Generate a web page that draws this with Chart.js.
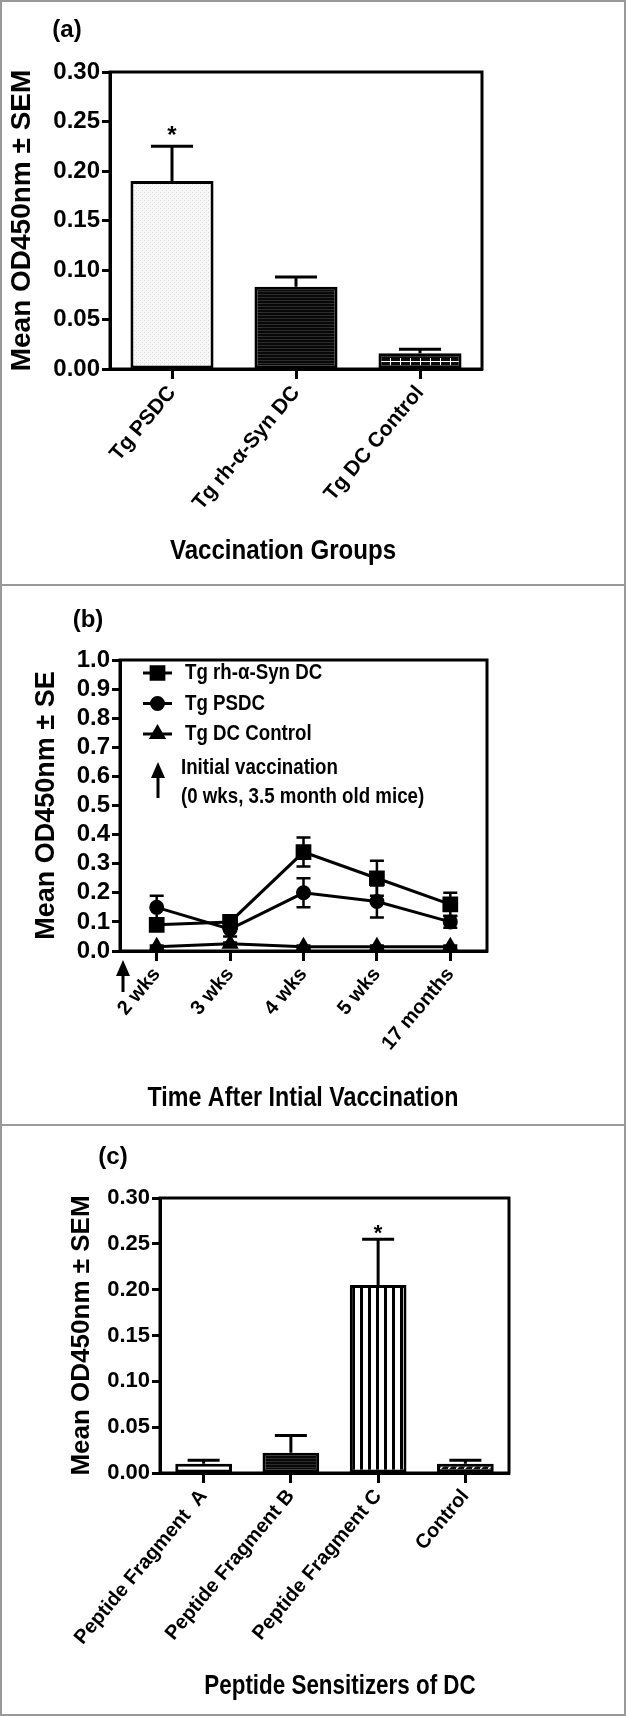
<!DOCTYPE html>
<html lang="en">
<head>
<meta charset="UTF-8">
<title>Antibody response to DC vaccination</title>
<script src="https://cdn.jsdelivr.net/npm/chart.js@4.4.1/dist/chart.umd.min.js"></script>
<style>
    body { margin: 0; background: #fff; }
    .figure { position: relative; width: 626px; height: 1716px; }
    .panel { position: absolute; left: 0; width: 626px; }
    .divider { position: absolute; left: 0; width: 626px; height: 2px; background: #9a9a9a; }
    .frame { position: absolute; left: 0; top: 0; width: 626px; height: 1716px; box-sizing: border-box; border: 2px solid #9a9a9a; pointer-events: none; }
</style>
</head>
<body>
<div class="figure">
    <div class="panel" style="top:0;height:585px"><canvas id="chartA"></canvas></div>
    <div class="panel" style="top:585px;height:540px"><canvas id="chartB"></canvas></div>
    <div class="panel" style="top:1125px;height:591px"><canvas id="chartC"></canvas></div>
    <div class="divider" style="top:584px"></div>
    <div class="divider" style="top:1124px"></div>
    <div class="frame"></div>
</div>

<script>
// (a) antibody levels by vaccination group
const groupsA = ['Tg PSDC', 'Tg rh-α-Syn DC', 'Tg DC Control'];
const meanA = [0.190, 0.083, 0.016];
const semA = [0.035, 0.010, 0.004];
const starA = [true, false, false];

// (b) time course
const timepoints = ['2 wks', '3 wks', '4 wks', '5 wks', '17 months'];
const seriesB = ['Tg rh-α-Syn DC', 'Tg PSDC', 'Tg DC Control'];
const synB = [0.09, 0.10, 0.34, 0.25, 0.16];
const synErrB = [0.02, 0.01, 0.05, 0.06, 0.04];
const psdcB = [0.15, 0.075, 0.20, 0.17, 0.10];
const psdcErrB = [0.04, 0.025, 0.05, 0.055, 0.02];
const ctrlB = [0.015, 0.025, 0.015, 0.015, 0.015];
const ctrlErrB = [0.004, 0.004, 0.004, 0.004, 0.004];
const vaccNote = ['Initial vaccination', '(0 wks, 3.5 month old mice)'];

// (c) peptide sensitizers
const peptidesC = ['Peptide Fragment  A', 'Peptide Fragment B', 'Peptide Fragment C', 'Control'];
const meanC = [0.010, 0.022, 0.205, 0.010];
const semC = [0.004, 0.019, 0.050, 0.004];
const starC = [false, false, true, false];

const SANS = "'Liberation Sans', Arial, sans-serif";

// fill patterns for the bars
function makePattern(w, h, draw) {
    const c = document.createElement('canvas');
    c.width = w; c.height = h;
    const g = c.getContext('2d');
    draw(g, w, h);
    return g.createPattern(c, 'repeat');
}
const dotted = makePattern(4, 4, (g) => {
    g.fillStyle = '#f7f7f7'; g.fillRect(0, 0, 4, 4);
    g.fillStyle = '#dcdcdc'; g.fillRect(0, 0, 1, 1); g.fillRect(2, 2, 1, 1);
});
const hLines = makePattern(4, 3, (g) => {
    g.fillStyle = '#080808'; g.fillRect(0, 0, 4, 3);
    g.fillStyle = '#2c2c2c'; g.fillRect(0, 0, 4, 1);
});
const bricks = makePattern(10, 12, (g) => {
    g.fillStyle = '#0a0a0a'; g.fillRect(0, 0, 10, 12);
    g.fillStyle = '#ffffff'; g.fillRect(0, 1, 10, 1);
    g.fillRect(0, 10, 1, 2); g.fillRect(0, 0, 1, 5);
});
const vStripes = makePattern(8, 4, (g) => {
    g.fillStyle = '#ffffff'; g.fillRect(0, 0, 8, 4);
    g.fillStyle = '#000000'; g.fillRect(0, 0, 3, 4);
});
const hatch = makePattern(8, 8, (g) => {
    g.fillStyle = '#111111'; g.fillRect(0, 0, 8, 8);
    g.strokeStyle = '#ffffff'; g.lineWidth = 1.5;
    g.beginPath(); g.moveTo(0, 8); g.lineTo(4, 4); g.stroke();
});

// condensed-looking text: squeeze horizontally
function squeezeText(ctx, text, x, y, sx, align) {
    ctx.save();
    ctx.translate(x, y);
    ctx.scale(sx, 1);
    ctx.textAlign = align;
    ctx.fillText(text, 0, 0);
    ctx.restore();
}

// error bars (up only for bars, both ways for lines)
const errorBars = {
    id: 'errorBars',
    beforeDatasetsDraw(chart, args, opts) {
        const ctx = chart.ctx, y = chart.scales.y;
        chart.data.datasets.forEach((ds, i) => {
            if (!ds.errors) return;
            chart.getDatasetMeta(i).data.forEach((el, j) => {
                const v = ds.data[j], e = ds.errors[j];
                const yTop = y.getPixelForValue(v + e);
                const yBot = opts.both ? y.getPixelForValue(v - e) : el.y;
                ctx.save();
                ctx.strokeStyle = '#000';
                ctx.lineWidth = opts.lineWidth;
                ctx.beginPath();
                ctx.moveTo(el.x, yBot); ctx.lineTo(el.x, yTop);
                ctx.moveTo(el.x - opts.cap / 2, yTop); ctx.lineTo(el.x + opts.cap / 2, yTop);
                if (opts.both) { ctx.moveTo(el.x - opts.cap / 2, yBot); ctx.lineTo(el.x + opts.cap / 2, yBot); }
                ctx.stroke();
                if (ds.stars && ds.stars[j]) {
                    ctx.fillStyle = '#000';
                    ctx.font = 'bold ' + opts.starSize + 'px ' + SANS;
                    ctx.textAlign = 'center';
                    ctx.textBaseline = 'alphabetic';
                    ctx.fillText('*', el.x, yTop + opts.starOffset);
                }
                ctx.restore();
            });
        });
    }
};

// closed plot box and free text (panel letter, x title)
const panelDecor = {
    id: 'panelDecor',
    afterDraw(chart, args, opts) {
        const ctx = chart.ctx, a = chart.chartArea;
        ctx.save();
        ctx.strokeStyle = '#000';
        ctx.lineWidth = 3;
        ctx.strokeRect(a.left, a.top, a.right - a.left, a.bottom - a.top);
        ctx.fillStyle = '#000';
        ctx.textBaseline = 'middle';
        (opts.texts || []).forEach(t => {
            ctx.font = t.font;
            squeezeText(ctx, t.text, t.x, t.y, t.sx || 1, 'center');
        });
        ctx.restore();
    }
};

function arrowUp(ctx, x, tip, bottom) {
    ctx.save();
    ctx.fillStyle = '#000'; ctx.strokeStyle = '#000'; ctx.lineWidth = 3;
    ctx.beginPath(); ctx.moveTo(x, tip + 12); ctx.lineTo(x, bottom); ctx.stroke();
    ctx.beginPath(); ctx.moveTo(x, tip); ctx.lineTo(x - 7, tip + 16); ctx.lineTo(x + 7, tip + 16); ctx.closePath(); ctx.fill();
    ctx.restore();
}

// legend of panel (b), with the vaccination arrow note
const lineLegend = {
    id: 'lineLegend',
    afterDraw(chart, args, opts) {
        const ctx = chart.ctx;
        ctx.save();
        chart.data.datasets.forEach((ds, i) => {
            const y = opts.top + i * opts.gap;
            ctx.strokeStyle = '#000'; ctx.fillStyle = '#000'; ctx.lineWidth = 3;
            ctx.beginPath(); ctx.moveTo(opts.x0, y); ctx.lineTo(opts.x1, y); ctx.stroke();
            Chart.helpers.drawPoint(ctx, { pointStyle: ds.pointStyle, radius: ds.pointRadius, borderWidth: 1, rotation: 0 }, (opts.x0 + opts.x1) / 2, y);
            ctx.font = opts.font; ctx.textBaseline = 'middle';
            squeezeText(ctx, ds.label, opts.textX, y, opts.sx, 'left');
        });
        arrowUp(ctx, 158, 177, 213);
        ctx.font = opts.font; ctx.textBaseline = 'middle';
        squeezeText(ctx, vaccNote[0], 181, 183, opts.sx, 'left');
        squeezeText(ctx, vaccNote[1], 181, 212, opts.sx, 'left');
        arrowUp(ctx, 123, 375, 407);
        ctx.restore();
    }
};

function scaleOptions(p) {
    const grid = { display: true, drawOnChartArea: false, drawTicks: true, tickWidth: 3, tickColor: '#000', offset: false };
    return {
        x: {
            offset: true,
            grid: Object.assign({}, grid, { tickLength: p.xTick }),
            border: { color: '#000', width: 3 },
            ticks: { color: '#000', font: { family: SANS, weight: 'bold', size: p.xFont }, minRotation: 50, maxRotation: 50, autoSkip: false, padding: 2 },
            afterFit: (s) => { s.height = p.height - p.bottom; }
        },
        y: {
            min: 0, max: p.max,
            grid: Object.assign({}, grid, { tickLength: 8 }),
            border: { color: '#000', width: 3 },
            ticks: { color: '#000', stepSize: p.step, padding: 2, autoSkip: false, font: { family: SANS, weight: 'bold', size: p.yFont },
                callback: (v) => v.toFixed(p.dec) },
            title: { display: true, text: p.yTitle, color: '#000', font: { family: SANS, weight: 'bold', size: p.titleSize },
                padding: { top: p.titleX - p.titleSize * 0.6, bottom: 0 } },
            afterFit: (s) => { s.width = p.left; }
        }
    };
}

function baseOptions(p) {
    return {
        responsive: true,
        maintainAspectRatio: false,
        animation: false,
        layout: { padding: { left: 0, top: p.top, right: 626 - p.right, bottom: 0 } },
        plugins: { legend: { display: false }, tooltip: { enabled: false } },
        scales: scaleOptions(p)
    };
}

// panel (a)
const optA = baseOptions({ height: 585, left: 110, right: 482, top: 72, bottom: 369, max: 0.30, step: 0.05, dec: 2,
    xTick: 10, xFont: 21, yFont: 24, yTitle: 'Mean OD450nm ± SEM', titleSize: 28, titleX: 22 });
optA.plugins.errorBars = { cap: 42, lineWidth: 3, starOffset: -3, starSize: 24 };
optA.plugins.panelDecor = { texts: [
    { text: '(a)', x: 67, y: 30, font: 'bold 24px ' + SANS },
    { text: 'Vaccination Groups', x: 283, y: 551, font: 'bold 28px ' + SANS, sx: 0.86 }
] };
new Chart(document.getElementById('chartA'), {
    type: 'bar',
    data: { labels: groupsA, datasets: [{
        data: meanA, errors: semA, stars: starA,
        backgroundColor: [dotted, hLines, bricks],
        borderColor: '#000', borderWidth: 3, borderSkipped: false,
        barPercentage: 0.67, categoryPercentage: 1
    }] },
    options: optA,
    plugins: [errorBars, panelDecor]
});

// panel (b)
const optB = baseOptions({ height: 540, left: 120, right: 487, top: 75, bottom: 366, max: 1.0, step: 0.1, dec: 1,
    xTick: 10, xFont: 20, yFont: 24, yTitle: 'Mean OD450nm ± SE', titleSize: 27, titleX: 47 });
optB.plugins.errorBars = { cap: 14, lineWidth: 2.5, both: true };
optB.plugins.lineLegend = { top: 88, gap: 30.5, x0: 143, x1: 172, textX: 185, font: 'bold 22px ' + SANS, sx: 0.85 };
optB.plugins.panelDecor = { texts: [
    { text: '(b)', x: 88, y: 35, font: 'bold 24px ' + SANS },
    { text: 'Time After Intial Vaccination', x: 303, y: 513, font: 'bold 28px ' + SANS, sx: 0.83 }
] };
const lineStyle = { borderColor: '#000', backgroundColor: '#000', borderWidth: 3, pointBackgroundColor: '#000', pointBorderColor: '#000', tension: 0 };
new Chart(document.getElementById('chartB'), {
    type: 'line',
    data: { labels: timepoints, datasets: [
        Object.assign({ label: seriesB[0], data: synB, errors: synErrB, pointStyle: 'rect', pointRadius: 9 }, lineStyle),
        Object.assign({ label: seriesB[1], data: psdcB, errors: psdcErrB, pointStyle: 'circle', pointRadius: 6 }, lineStyle),
        Object.assign({ label: seriesB[2], data: ctrlB, errors: ctrlErrB, pointStyle: 'triangle', pointRadius: 7 }, lineStyle)
    ] },
    options: optB,
    plugins: [errorBars, panelDecor, lineLegend]
});

// panel (c)
const optC = baseOptions({ height: 591, left: 160, right: 509, top: 73, bottom: 348, max: 0.30, step: 0.05, dec: 2,
    xTick: 10, xFont: 20, yFont: 22, yTitle: 'Mean OD450nm ± SEM', titleSize: 26, titleX: 82 });
optC.plugins.errorBars = { cap: 32, lineWidth: 3, starOffset: 1, starSize: 22 };
optC.plugins.panelDecor = { texts: [
    { text: '(c)', x: 113, y: 32, font: 'bold 24px ' + SANS },
    { text: 'Peptide Sensitizers of DC', x: 340, y: 561, font: 'bold 28px ' + SANS, sx: 0.8 }
] };
new Chart(document.getElementById('chartC'), {
    type: 'bar',
    data: { labels: peptidesC, datasets: [{
        data: meanC, errors: semC, stars: starC,
        backgroundColor: ['#ffffff', hLines, vStripes, hatch],
        borderColor: '#000', borderWidth: 3, borderSkipped: false,
        barPercentage: 0.65, categoryPercentage: 1
    }] },
    options: optC,
    plugins: [errorBars, panelDecor]
});
</script>
</body>
</html>
